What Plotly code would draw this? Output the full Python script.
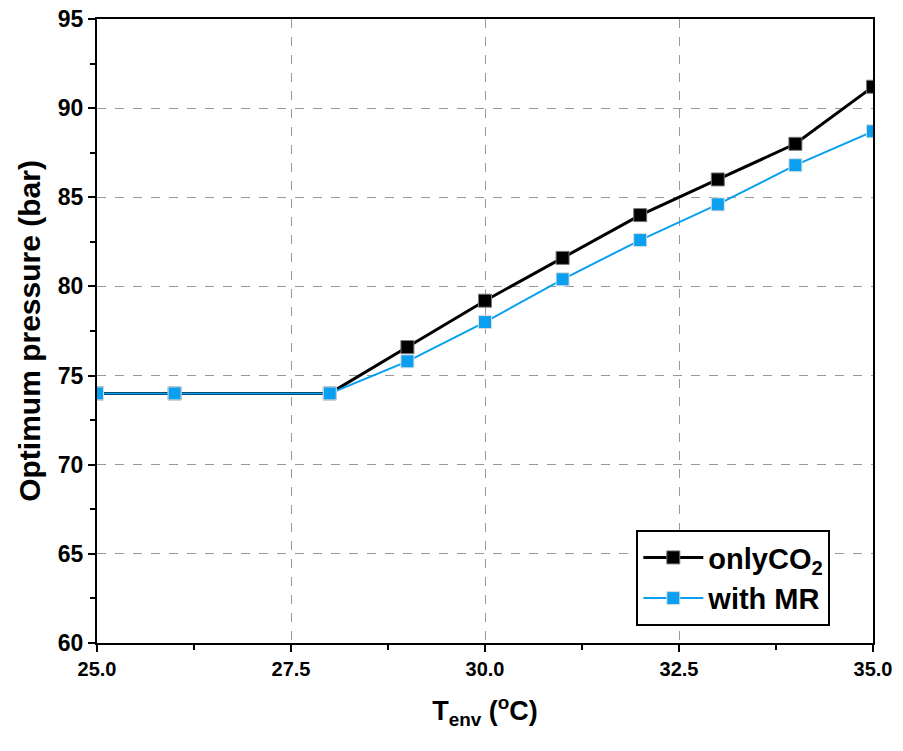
import plotly.graph_objects as go

t_env = [25, 26, 28, 29, 30, 31, 32, 33, 34, 35]
only_co2 = [74.0, 74.0, 74.0, 76.6, 79.2, 81.6, 84.0, 86.0, 88.0, 91.2]
with_mr = [74.0, 74.0, 74.0, 75.8, 78.0, 80.4, 82.6, 84.6, 86.8, 88.7]
x_ticks = [25.0, 27.5, 30.0, 32.5, 35.0]
y_ticks = [60, 65, 70, 75, 80, 85, 90, 95]

font_fam = "Liberation Sans, Arial, sans-serif"

fig = go.Figure()
fig.add_trace(go.Scatter(
    x=t_env, y=only_co2, mode="lines+markers", name="onlyCO<sub>2</sub>",
    line=dict(color="black", width=3),
    marker=dict(symbol="square", size=13, color="black", line=dict(color="#777777", width=1)),
))
fig.add_trace(go.Scatter(
    x=t_env, y=with_mr, mode="lines+markers", name="with MR",
    line=dict(color="#0A9FF0", width=2),
    marker=dict(symbol="square", size=13, color="#0A9FF0", line=dict(color="#dddddd", width=1)),
))

axis_common = dict(
    showline=True, linecolor="black", linewidth=2, mirror=True,
    ticks="outside", ticklen=7, tickwidth=2, tickcolor="black",
    showgrid=True, gridcolor="#999999", griddash="dash", gridwidth=1,
    zeroline=False, ticklabeloverflow="allow", automargin=False,
    minor=dict(ticks="outside", ticklen=5, tickwidth=2, tickcolor="black", showgrid=False),
)

fig.update_xaxes(
    range=[25, 35], tickvals=x_ticks, ticktext=[f"{v:.1f}" for v in x_ticks],
    minor_dtick=1.25,
    tickfont=dict(family=font_fam, size=20, color="black", weight="bold"),
    title=dict(text="T<sub>env</sub> (<sup>o</sup>C)", font=dict(family=font_fam, size=27, color="black", weight="bold"), standoff=22),
    **axis_common,
)
fig.update_yaxes(
    range=[60, 95], tickvals=y_ticks,
    minor_dtick=2.5,
    tickfont=dict(family=font_fam, size=23, color="black", weight="bold"),
    title=dict(text="Optimum pressure (bar)", font=dict(family=font_fam, size=30, color="black", weight="bold"), standoff=8),
    **axis_common,
)

fig.update_layout(
    width=903, height=751,
    margin=dict(l=97, r=30, t=19, b=108),
    plot_bgcolor="white", paper_bgcolor="white",
    legend=dict(
        x=0.695, y=0.181, xanchor="left", yanchor="top",
        bordercolor="black", borderwidth=2, bgcolor="white",
        font=dict(family=font_fam, size=29, color="black", weight="bold"),
        itemwidth=60, tracegroupgap=0,
    ),
)

fig.write_html("out.html", config={"displayModeBar": False},
               post_script="document.body.style.margin='0';")
